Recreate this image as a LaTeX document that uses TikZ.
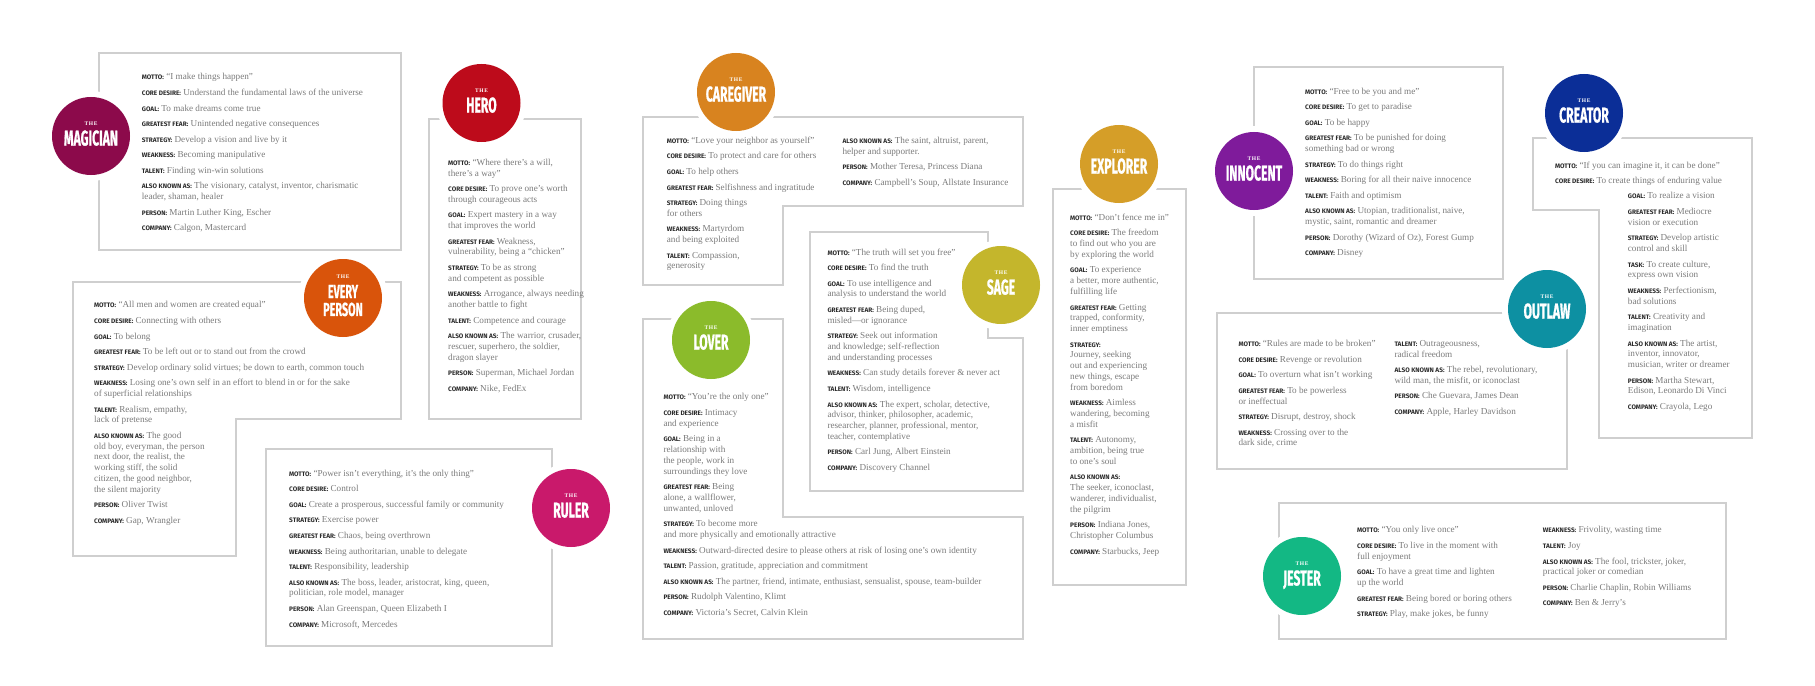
\documentclass[tikz,border=0pt]{standalone}
\usepackage{fontspec}
\setmainfont{Liberation Serif}
\newfontfamily\lblfont{Fira Sans}
\newfontfamily\ttlfont{Fira Sans}[FakeStretch=0.57, FakeBold=0.8]
\usepackage{xcolor}
\usepackage{tikz}

\definecolor{boxgray}{HTML}{CFCFCF}
\definecolor{bodygray}{HTML}{7A7A7A}
\definecolor{lblgray}{HTML}{2A2A2A}
\definecolor{magician}{HTML}{8C0A4B}
\definecolor{hero}{HTML}{BD0B1B}
\definecolor{everyperson}{HTML}{D9540B}
\definecolor{ruler}{HTML}{C9196B}
\definecolor{caregiver}{HTML}{D8831F}
\definecolor{sage}{HTML}{C4B62C}
\definecolor{lover}{HTML}{8BBB2B}
\definecolor{explorer}{HTML}{D59E28}
\definecolor{innocent}{HTML}{7F1B9B}
\definecolor{creator}{HTML}{0B2E97}
\definecolor{outlaw}{HTML}{0D90A2}
\definecolor{jester}{HTML}{13B884}

\newcommand{\lbl}[1]{{\lblfont\bfseries\fontsize{6.5}{6.5}\selectfont\color{lblgray}#1:}}
\newcommand{\nxt}{\\[4.8bp]}
\newcommand{\thelbl}{{\fontsize{5.5}{5.5}\selectfont\bfseries\addfontfeature{LetterSpace=12}THE}}
\newcommand{\archname}[1]{{\ttlfont\bfseries\fontsize{21.5}{18}\selectfont #1\rule[-4.8bp]{0pt}{0pt}}}

\begin{document}
\begin{tikzpicture}[x=1bp, y=-1bp,
        card/.style={draw=boxgray, line width=1.2bp},
        txt/.style={anchor=north west, inner sep=0pt, align=left, text=bodygray, font=\fontsize{9.2}{10.8}\selectfont},
        arch/.style={circle, fill=#1, minimum size=78bp, inner sep=0pt, align=center, text=white,
            font=\fontsize{5.5}{20.3}\selectfont, preaction={draw=white, line width=12bp}}
    ]
    \useasboundingbox (0,0) rectangle (1815,686);

    % The magician
    \draw[card] (99,53) rectangle (401,250);
    \node[txt] (magtxt) at (141.7,73.4) {\lbl{MOTTO} “I make things happen”\nxt
        \lbl{CORE DESIRE} Understand the fundamental laws of the universe\nxt
        \lbl{GOAL} To make dreams come true\nxt
        \lbl{GREATEST FEAR} Unintended negative consequences\nxt
        \lbl{STRATEGY} Develop a vision and live by it\nxt
        \lbl{WEAKNESS} Becoming manipulative\nxt
        \lbl{TALENT} Finding win-win solutions\nxt
        \lbl{ALSO KNOWN AS} The visionary, catalyst, inventor, charismatic\\leader, shaman, healer\nxt
        \lbl{PERSON} Martin Luther King, Escher\nxt
        \lbl{COMPANY} Calgon, Mastercard};
    \node[arch=magician] (magician) at (91,136) {\thelbl\\\archname{MAGICIAN}};

    % The every person (stepped box)
    \draw[card] (73,282) -- (401,282) -- (401,419) -- (236,419) -- (236,556) -- (73,556) -- cycle;
    \node[txt] (evtxt) at (94,301.4) {\lbl{MOTTO} “All men and women are created equal”\nxt
        \lbl{CORE DESIRE} Connecting with others\nxt
        \lbl{GOAL} To belong\nxt
        \lbl{GREATEST FEAR} To be left out or to stand out from the crowd\nxt
        \lbl{STRATEGY} Develop ordinary solid virtues; be down to earth, common touch\nxt
        \lbl{WEAKNESS} Losing one's own self in an effort to blend in or for the sake\\of superficial relationships\nxt
        \lbl{TALENT} Realism, empathy,\\lack of pretense\nxt
        \lbl{ALSO KNOWN AS} The good\\old boy, everyman, the person\\next door, the realist, the\\working stiff, the solid\\citizen, the good neighbor,\\the silent majority\nxt
        \lbl{PERSON} Oliver Twist\nxt
        \lbl{COMPANY} Gap, Wrangler};
    \node[arch=everyperson] (everyperson) at (343,298) {\thelbl\\[-1bp]{\ttlfont\bfseries\fontsize{19}{18}\selectfont EVERY}\\[-2.3bp]\archname{\fontsize{19}{18}\selectfont PERSON}};

    % The hero
    \draw[card] (429,119) rectangle (581,419);
    \node[txt] (herotxt) at (448,158.7) {\lbl{MOTTO} “Where there's a will,\\there's a way”\nxt
        \lbl{CORE DESIRE} To prove one's worth\\through courageous acts\nxt
        \lbl{GOAL} Expert mastery in a way\\that improves the world\nxt
        \lbl{GREATEST FEAR} Weakness,\\vulnerability, being a “chicken”\nxt
        \lbl{STRATEGY} To be as strong\\and competent as possible\nxt
        \lbl{WEAKNESS} Arrogance, always needing\\another battle to fight\nxt
        \lbl{TALENT} Competence and courage\nxt
        \lbl{ALSO KNOWN AS} The warrior, crusader,\\rescuer, superhero, the soldier,\\dragon slayer\nxt
        \lbl{PERSON} Superman, Michael Jordan\nxt
        \lbl{COMPANY} Nike, FedEx};
    \node[arch=hero] (hero) at (481.5,103) {\thelbl\\\archname{HERO}};

    % The ruler
    \draw[card] (266,449) rectangle (552,646);
    \node[txt] (rultxt) at (289,469.7) {\lbl{MOTTO} “Power isn't everything, it's the only thing”\nxt
        \lbl{CORE DESIRE} Control\nxt
        \lbl{GOAL} Create a prosperous, successful family or community\nxt
        \lbl{STRATEGY} Exercise power\nxt
        \lbl{GREATEST FEAR} Chaos, being overthrown\nxt
        \lbl{WEAKNESS} Being authoritarian, unable to delegate\nxt
        \lbl{TALENT} Responsibility, leadership\nxt
        \lbl{ALSO KNOWN AS} The boss, leader, aristocrat, king, queen,\\politician, role model, manager\nxt
        \lbl{PERSON} Alan Greenspan, Queen Elizabeth I\nxt
        \lbl{COMPANY} Microsoft, Mercedes};
    \node[arch=ruler] (ruler) at (571,508) {\thelbl\\\archname{RULER}};

    % The caregiver (two columns)
    \draw[card] (643,117) -- (1023,117) -- (1023,206) -- (783,206) -- (783,285) -- (643,285) -- cycle;
    \node[txt] (caretxt) at (666.7,136.7) {\lbl{MOTTO} “Love your neighbor as yourself”\nxt
        \lbl{CORE DESIRE} To protect and care for others\nxt
        \lbl{GOAL} To help others\nxt
        \lbl{GREATEST FEAR} Selfishness and ingratitude\nxt
        \lbl{STRATEGY} Doing things\\for others\nxt
        \lbl{WEAKNESS} Martyrdom\\and being exploited\nxt
        \lbl{TALENT} Compassion,\\generosity};
    \node[txt] (caretxtb) at (842.3,136.7) {\lbl{ALSO KNOWN AS} The saint, altruist, parent,\\helper and supporter.\nxt
        \lbl{PERSON} Mother Teresa, Princess Diana\nxt
        \lbl{COMPANY} Campbell's Soup, Allstate Insurance};
    \node[arch=caregiver] (caregiver) at (736,92) {\thelbl\\\archname{CAREGIVER}};

    % The sage
    \draw[card] (810,232) -- (988,232) -- (988,338) -- (1023,338) -- (1023,491) -- (810,491) -- cycle;
    \node[txt] (sagetxt) at (827.3,248.4) {\lbl{MOTTO} “The truth will set you free”\nxt
        \lbl{CORE DESIRE} To find the truth\nxt
        \lbl{GOAL} To use intelligence and\\analysis to understand the world\nxt
        \lbl{GREATEST FEAR} Being duped,\\misled—or ignorance\nxt
        \lbl{STRATEGY} Seek out information\\and knowledge; self-reflection\\and understanding processes\nxt
        \lbl{WEAKNESS} Can study details forever \& never act\nxt
        \lbl{TALENT} Wisdom, intelligence\nxt
        \lbl{ALSO KNOWN AS} The expert, scholar, detective,\\advisor, thinker, philosopher, academic,\\researcher, planner, professional, mentor,\\teacher, contemplative\nxt
        \lbl{PERSON} Carl Jung, Albert Einstein\nxt
        \lbl{COMPANY} Discovery Channel};
    \node[arch=sage] (sage) at (1001,285) {\thelbl\\\archname{SAGE}};

    % The lover (stepped box)
    \draw[card] (643,319) -- (783,319) -- (783,517) -- (1023,517) -- (1023,639) -- (643,639) -- cycle;
    \node[txt] (lovtxt) at (663.3,393.4) {\lbl{MOTTO} “You're the only one”\nxt
        \lbl{CORE DESIRE} Intimacy\\and experience\nxt
        \lbl{GOAL} Being in a\\relationship with\\the people, work in\\surroundings they love\nxt
        \lbl{GREATEST FEAR} Being\\alone, a wallflower,\\unwanted, unloved\nxt
        \lbl{STRATEGY} To become more\\and more physically and emotionally attractive\nxt
        \lbl{WEAKNESS} Outward-directed desire to please others at risk of losing one's own identity\nxt
        \lbl{TALENT} Passion, gratitude, appreciation and commitment\nxt
        \lbl{ALSO KNOWN AS} The partner, friend, intimate, enthusiast, sensualist, spouse, team-builder\nxt
        \lbl{PERSON} Rudolph Valentino, Klimt\nxt
        \lbl{COMPANY} Victoria's Secret, Calvin Klein};
    \node[arch=lover] (lover) at (711,340) {\thelbl\\\archname{LOVER}};

    % The explorer
    \draw[card] (1053,189) rectangle (1186,585);
    \node[txt] (exptxt) at (1070,213.7) {\lbl{MOTTO} “Don't fence me in”\nxt
        \lbl{CORE DESIRE} The freedom\\to find out who you are\\by exploring the world\nxt
        \lbl{GOAL} To experience\\a better, more authentic,\\fulfilling life\nxt
        \lbl{GREATEST FEAR} Getting\\trapped, conformity,\\inner emptiness\nxt
        \lbl{STRATEGY}\\Journey, seeking\\out and experiencing\\new things, escape\\from boredom\nxt
        \lbl{WEAKNESS} Aimless\\wandering, becoming\\a misfit\nxt
        \lbl{TALENT} Autonomy,\\ambition, being true\\to one's soul\nxt
        \lbl{ALSO KNOWN AS}\\The seeker, iconoclast,\\wanderer, individualist,\\the pilgrim\nxt
        \lbl{PERSON} Indiana Jones,\\Christopher Columbus\nxt
        \lbl{COMPANY} Starbucks, Jeep};
    \node[arch=explorer] (explorer) at (1119,164) {\thelbl\\\archname{EXPLORER}};

    % The innocent
    \draw[card] (1254,67) rectangle (1503,279);
    \node[txt] (inntxt) at (1305,87.7) {\lbl{MOTTO} “Free to be you and me”\nxt
        \lbl{CORE DESIRE} To get to paradise\nxt
        \lbl{GOAL} To be happy\nxt
        \lbl{GREATEST FEAR} To be punished for doing\\something bad or wrong\nxt
        \lbl{STRATEGY} To do things right\nxt
        \lbl{WEAKNESS} Boring for all their naive innocence\nxt
        \lbl{TALENT} Faith and optimism\nxt
        \lbl{ALSO KNOWN AS} Utopian, traditionalist, naive,\\mystic, saint, romantic and dreamer\nxt
        \lbl{PERSON} Dorothy (Wizard of Oz), Forest Gump\nxt
        \lbl{COMPANY} Disney};
    \node[arch=innocent] (innocent) at (1254,171) {\thelbl\\\archname{INNOCENT}};

    % The outlaw (two columns)
    \draw[card] (1217,313) rectangle (1567,469);
    \node[txt] (outtxt) at (1238.3,340) {\lbl{MOTTO} “Rules are made to be broken”\nxt
        \lbl{CORE DESIRE} Revenge or revolution\nxt
        \lbl{GOAL} To overturn what isn't working\nxt
        \lbl{GREATEST FEAR} To be powerless\\or ineffectual\nxt
        \lbl{STRATEGY} Disrupt, destroy, shock\nxt
        \lbl{WEAKNESS} Crossing over to the\\dark side, crime};
    \node[txt] (outtxtb) at (1394.3,340) {\lbl{TALENT} Outrageousness,\\radical freedom\nxt
        \lbl{ALSO KNOWN AS} The rebel, revolutionary,\\wild man, the misfit, or iconoclast\nxt
        \lbl{PERSON} Che Guevara, James Dean\nxt
        \lbl{COMPANY} Apple, Harley Davidson};
    \node[arch=outlaw] (outlaw) at (1547,309) {\thelbl\\\archname{OUTLAW}};

    % The creator (stepped box)
    \draw[card] (1533,138) -- (1752,138) -- (1752,438) -- (1599,438) -- (1599,210) -- (1533,210) -- cycle;
    \node[txt] (cretxt) at (1555,161.7) {\lbl{MOTTO} “If you can imagine it, it can be done”\nxt
        \lbl{CORE DESIRE} To create things of enduring value};
    \node[txt] (cretxtb) at (1627.7,192.4) {\lbl{GOAL} To realize a vision\nxt
        \lbl{GREATEST FEAR} Mediocre\\vision or execution\nxt
        \lbl{STRATEGY} Develop artistic\\control and skill\nxt
        \lbl{TASK} To create culture,\\express own vision\nxt
        \lbl{WEAKNESS} Perfectionism,\\bad solutions\nxt
        \lbl{TALENT} Creativity and\\imagination\nxt
        \lbl{ALSO KNOWN AS} The artist,\\inventor, innovator,\\musician, writer or dreamer\nxt
        \lbl{PERSON} Martha Stewart,\\Edison, Leonardo Di Vinci\nxt
        \lbl{COMPANY} Crayola, Lego};
    \node[arch=creator] (creator) at (1584,113) {\thelbl\\\archname{CREATOR}};

    % The jester (two columns)
    \draw[card] (1279,503) rectangle (1726,639);
    \node[txt] (jestxt) at (1357,526.4) {\lbl{MOTTO} “You only live once”\nxt
        \lbl{CORE DESIRE} To live in the moment with\\full enjoyment\nxt
        \lbl{GOAL} To have a great time and lighten\\up the world\nxt
        \lbl{GREATEST FEAR} Being bored or boring others\nxt
        \lbl{STRATEGY} Play, make jokes, be funny};
    \node[txt] (jestxtb) at (1542.7,526.4) {\lbl{WEAKNESS} Frivolity, wasting time\nxt
        \lbl{TALENT} Joy\nxt
        \lbl{ALSO KNOWN AS} The fool, trickster, joker,\\practical joker or comedian\nxt
        \lbl{PERSON} Charlie Chaplin, Robin Williams\nxt
        \lbl{COMPANY} Ben \& Jerry's};
    \node[arch=jester] (jester) at (1302,576) {\thelbl\\\archname{JESTER}};

\end{tikzpicture}
\end{document}
